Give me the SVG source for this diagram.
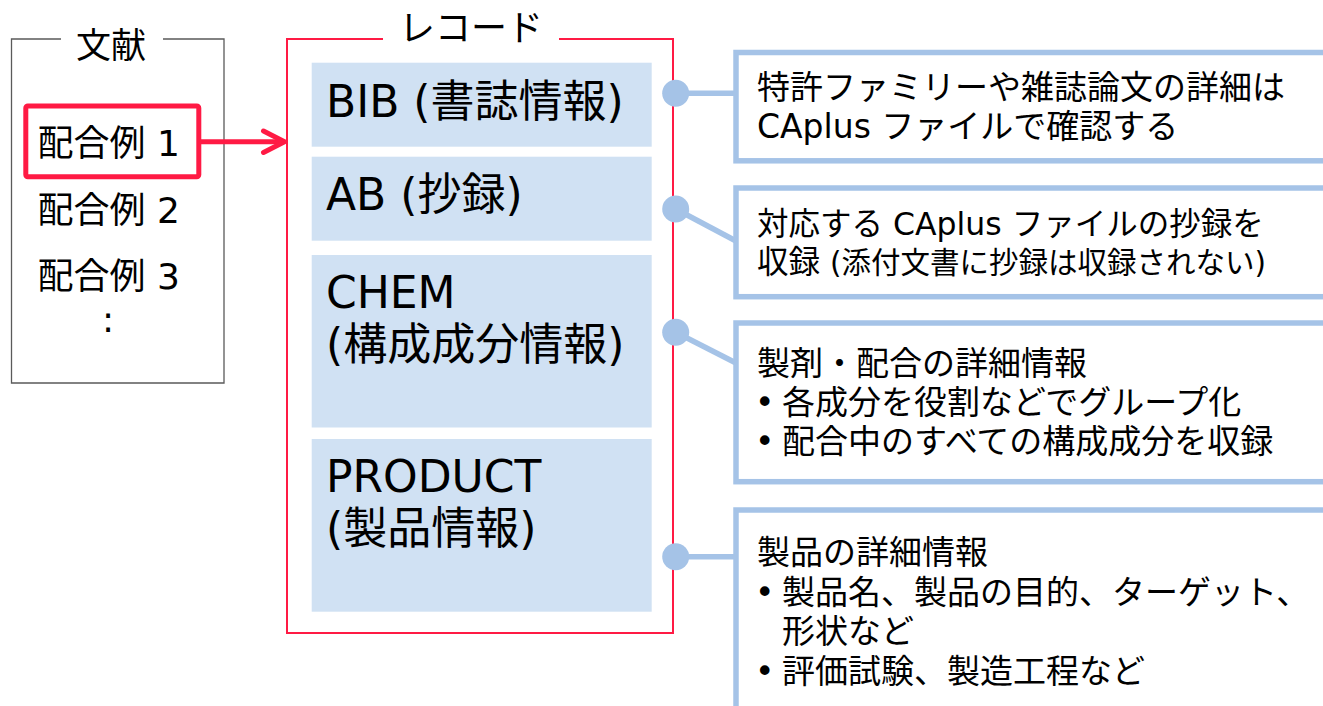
<svg xmlns="http://www.w3.org/2000/svg" width="1323" height="706" viewBox="0 0 1323 706">
<style>
  .t { font-family: "DejaVu Sans", "Noto Sans CJK JP", sans-serif; fill: #000; }
  .left { font-size: 36px; }
  .rec { font-size: 44px; }
  .call { font-size: 33px; }
  .band { fill: #D0E1F3; }
  .cbox { fill: #FFFFFF; stroke: #A5C3E7; stroke-width: 5.5; }
  .conn { stroke: #A5C3E7; stroke-width: 5.5; fill: none; }
  .dot { fill: #A5C3E7; }
</style>
<rect width="1323" height="706" fill="#FFFFFF"/>

<g id="document">
  <path d="M61,39 H11.5 V383 H224 V39 H163" fill="none" stroke="#5A5A5A" stroke-width="1.3"/>
  <text class="t" x="111" y="58" font-size="35" text-anchor="middle">文献</text>
  <rect x="25.8" y="106" width="173" height="70.7" rx="2" fill="none" stroke="#FF1A44" stroke-width="5"/>
  <text class="t left" x="37.5" y="156">配合例 1</text>
  <text class="t left" x="37.5" y="223">配合例 2</text>
  <text class="t left" x="37.5" y="289">配合例 3</text>
  <text class="t left" x="108" y="332" text-anchor="middle">:</text>
</g>

<g id="record">
  <path d="M383,39 H287 V633 H673 V39 H559" fill="none" stroke="#FF1A44" stroke-width="2"/>
  <text class="t" x="471" y="41" font-size="36" text-anchor="middle">レコード</text>
  <g id="field-bib">
    <rect class="band" x="311.7" y="62.7" width="340" height="84"/>
    <text class="t rec" x="326" y="117">BIB (書誌情報)</text>
  </g>
  <g id="field-ab">
    <rect class="band" x="311.7" y="156.7" width="340" height="84"/>
    <text class="t rec" x="326" y="210">AB (抄録)</text>
  </g>
  <g id="field-chem">
    <rect class="band" x="311.7" y="255" width="340" height="172.5"/>
    <text class="t rec" x="326" y="308">CHEM</text>
    <text class="t rec" x="326" y="360">(構成成分情報)</text>
  </g>
  <g id="field-product">
    <rect class="band" x="311.7" y="439" width="340" height="172.7"/>
    <text class="t rec" x="326" y="492">PRODUCT</text>
    <text class="t rec" x="326" y="544">(製品情報)</text>
  </g>
</g>

<g id="note-bib">
  <rect class="cbox" x="736" y="52.5" width="620" height="108.3"/>
  <text class="t call" x="757" y="99.4">特許ファミリーや雑誌論文の詳細は</text>
  <text class="t call" x="757" y="138">CAplus ファイルで確認する</text>
</g>

<g id="note-ab">
  <rect class="cbox" x="736" y="188" width="620" height="108.7"/>
  <text class="t" x="757" y="234.5" font-size="31.5">対応する CAplus ファイルの抄録を</text>
  <text class="t" x="757" y="272.5" font-size="31.5">収録 <tspan font-size="29.5">(添付文書に抄録は収録されない)</tspan></text>
</g>

<g id="note-chem">
  <rect class="cbox" x="736" y="323" width="620" height="158.7"/>
  <text class="t call" x="757" y="374.5">製剤・配合の詳細情報</text>
  <text class="t call" x="755" y="413.5">•</text>
  <text class="t call" x="782" y="413.5">各成分を役割などでグループ化</text>
  <text class="t call" x="755" y="452.5">•</text>
  <text class="t call" x="782" y="452.5">配合中のすべての構成成分を収録</text>
</g>

<g id="note-product">
  <rect class="cbox" x="736" y="510" width="620" height="300"/>
  <text class="t call" x="757" y="564">製品の詳細情報</text>
  <text class="t call" x="755" y="603.5">•</text>
  <text class="t call" x="782" y="603.5">製品名、製品の目的、ターゲット、</text>
  <text class="t call" x="782" y="643">形状など</text>
  <text class="t call" x="755" y="682.5">•</text>
  <text class="t call" x="782" y="682.5">評価試験、製造工程など</text>
</g>

<g id="connectors">
  <line x1="201" y1="141.7" x2="283" y2="141.7" stroke="#FF1A44" stroke-width="5"/>
  <polyline points="263.5,131 284.5,141.7 263.5,152.5" fill="none" stroke="#FF1A44" stroke-width="5" stroke-linecap="round" stroke-linejoin="round"/>
  <line class="conn" x1="675.7" y1="93.3" x2="736" y2="93.3"/>
  <line class="conn" x1="675.7" y1="209" x2="736" y2="241"/>
  <line class="conn" x1="675.7" y1="332.3" x2="736" y2="363"/>
  <line class="conn" x1="675.7" y1="556.7" x2="736" y2="556.7"/>
  <circle class="dot" cx="675.7" cy="93.3" r="13.5"/>
  <circle class="dot" cx="675.7" cy="209" r="13.5"/>
  <circle class="dot" cx="675.7" cy="332.3" r="13.5"/>
  <circle class="dot" cx="675.7" cy="556.7" r="13.5"/>
</g>
</svg>
